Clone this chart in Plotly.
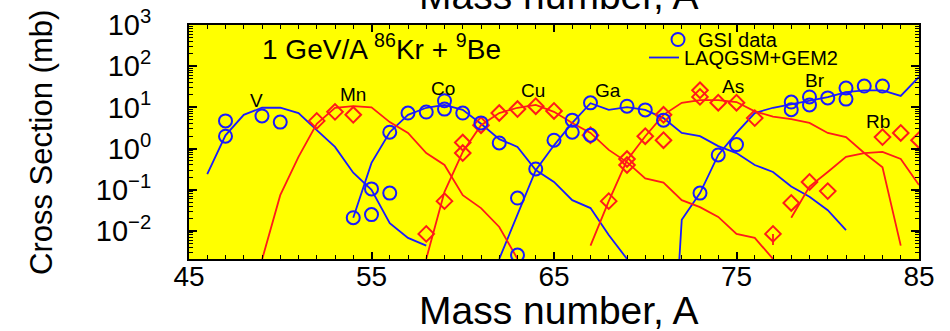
import math
import plotly.graph_objects as go

# ---------------- data ----------------
# GSI data (blue circles)
gsi_A = [47, 47, 49, 50, 55, 56, 54, 55,
         56, 57, 58, 59, 59, 60, 61, 62, 63, 63, 64,
         65, 66, 66, 67, 67, 69, 70, 71,
         73, 74, 75, 78, 78, 79, 79, 80, 81, 81, 82, 83]
gsi_sigma = [4.7, 2.0, 6.2, 4.4, 0.105, 0.083, 0.021, 0.025,
             2.5, 7.3, 7.7, 14.5, 9.1, 7.3, 4.2, 1.37, 0.063, 0.0026, 0.32,
             1.6, 4.9, 2.5, 12.9, 2.1, 10.7, 8.7, 4.9,
             0.083, 0.70, 1.25, 13.5, 8.8, 17.9, 11.5, 17.0, 29.5, 15.9, 33.0, 33.0]

# GSI data (red diamonds)
gsi2_A = [52, 53, 54,
          58, 59, 60, 60, 61, 62, 63, 64, 65, 67,
          68, 69, 69, 70, 71, 71, 73, 73, 74, 75, 76,
          77, 78, 79, 80, 83, 84, 85]
gsi2_sigma = [4.7, 7.8, 6.6,
              0.0085, 0.053, 1.4, 0.78, 3.7, 7.3, 9.1, 10.7, 8.2, 2.1,
              0.053, 0.56, 0.40, 2.0, 1.6, 6.6, 26.0, 18.0, 13.0, 13.0, 5.5,
              0.0085, 0.048, 0.155, 0.093, 1.9, 2.4, 1.6]
gsi2_err_minus = [0, 0, 0,
                  0, 0, 0, 0, 0, 0, 0, 0, 0, 0,
                  0, 0, 0, 0, 0, 0, 0, 0, 0, 0, 0,
                  0.0039, 0, 0, 0, 0, 0, 0]

# LAQGSM+GEM2 calculations
V_A = [46, 47, 48, 49, 50, 51, 52, 53, 54, 55, 56, 57, 58]
V_s = [0.24, 2.1, 6.6, 9.8, 9.8, 7.3, 2.8, 1.1, 0.26, 0.10, 0.0155, 0.0068, 0.0044]

Mn_A = [49, 50, 51, 52, 53, 54, 55, 56, 57, 58, 59, 60, 61, 62, 63]
Mn_s = [0.002, 0.074, 0.63, 4.0, 9.8, 10.7, 10.0, 4.4, 2.4, 0.78, 0.40, 0.074, 0.036, 0.0125, 0.0021]

Co_A = [54, 55, 56, 57, 58, 59, 60, 61, 62, 63, 64, 65, 66, 67, 68, 69]
Co_s = [0.021, 0.45, 2.5, 6.6, 9.8, 11.5, 8.7, 4.0, 1.7, 1.1, 0.30, 0.155, 0.056, 0.036, 0.008, 0.0021]

Cu_A = [58, 59, 60, 61, 62, 63, 64, 65, 66, 67, 68, 69, 70, 71, 72, 73, 74, 75, 76, 77]
Cu_s = [0.0021, 0.089, 0.83, 3.7, 7.3, 9.8, 11.5, 7.8, 4.2, 2.4, 0.93, 0.47, 0.19, 0.15,
        0.056, 0.038, 0.022, 0.0085, 0.0068, 0.0021]

Ga_A = [62, 63, 64, 65, 66, 67, 68, 69, 70, 71, 72, 73, 74, 75, 76, 77, 78, 79, 80, 81]
Ga_s = [0.0021, 0.026, 0.30, 1.2, 4.2, 12.6, 8.7, 10.2, 8.7, 5.5, 2.4, 2.0, 1.15, 0.78,
        0.40, 0.27, 0.12, 0.068, 0.032, 0.0105]

As_A = [67, 68, 69, 70, 71, 72, 73, 74, 75, 76, 77, 78, 79, 80, 81, 82, 83, 84]
As_s = [0.0044, 0.053, 0.52, 2.0, 6.6, 12.9, 15.0, 15.0, 13.5, 8.0, 6.0, 5.2, 4.2, 2.4,
        1.9, 0.78, 0.35, 0.0044]

Br_A = [71, 72, 73, 74, 75, 76, 77, 78, 79, 80, 81, 82, 83, 84, 85]
Br_s = [1e-9, 0.0187, 0.083, 0.70, 2.4, 7.3, 9.8, 12.0, 15.0, 17.8, 23.5, 26.0, 26.0, 19.0, 55.0]

Rb_A = [78, 79, 80, 81, 82, 83, 84, 85]
Rb_s = [0.021, 0.12, 0.27, 0.63, 0.78, 0.83, 0.56, 0.13]

# element labels
elem_names = ["V", "Mn", "Co", "Cu", "Ga", "As", "Br", "Rb"]
elem_x = [48.7, 54.0, 58.9, 63.85, 67.96, 74.8, 79.3, 82.75]
elem_y = [15.0, 20.0, 29.5, 26.0, 26.0, 33.0, 44.0, 4.5]

x_ticks = [45, 55, 65, 75, 85]
y_ticks = [1e-2, 1e-1, 1e0, 1e1, 1e2, 1e3]
y_ticktext = ["10<sup>\u22122</sup>", "10<sup>\u22121</sup>", "10<sup>0</sup>",
              "10<sup>1</sup>", "10<sup>2</sup>", "10<sup>3</sup>"]

BLUE = "#1a1aff"
RED = "#ff1a1a"
FONT = "Liberation Sans, Arial, sans-serif"

# plot area in pixels
L, R, T, B = 189, 919, 25, 259
W, H = R - L, B - T


def py2paper(py):
    return (B - py) / H


def px2paper(px):
    return (px - L) / W


fig = go.Figure()

blue_lines = [(V_A, V_s), (Co_A, Co_s), (Ga_A, Ga_s), (Br_A, Br_s)]
red_lines = [(Mn_A, Mn_s), (Cu_A, Cu_s), (As_A, As_s), (Rb_A, Rb_s)]

for i, (a, s) in enumerate(blue_lines):
    fig.add_trace(go.Scatter(x=a, y=s, mode="lines", line=dict(color=BLUE, width=1.8),
                             name="LAQGSM+GEM2", showlegend=(i == 0), legend="legend2"))
for a, s in red_lines:
    fig.add_trace(go.Scatter(x=a, y=s, mode="lines", line=dict(color=RED, width=1.8),
                             showlegend=False))

fig.add_trace(go.Scatter(x=gsi2_A, y=gsi2_sigma, mode="markers",
                         marker=dict(symbol="diamond-open", size=12, color=RED,
                                     line=dict(width=2, color=RED)),
                         error_y=dict(type="data", symmetric=False,
                                      array=[0] * len(gsi2_err_minus),
                                      arrayminus=gsi2_err_minus, color=RED,
                                      thickness=1.8, width=0),
                         showlegend=False))
fig.add_trace(go.Scatter(x=gsi_A, y=gsi_sigma, mode="markers",
                         marker=dict(symbol="circle-open", size=13, color=BLUE,
                                     line=dict(width=2, color=BLUE)),
                         name="GSI data", showlegend=True, legend="legend"))

for n, x, y in zip(elem_names, elem_x, elem_y):
    fig.add_annotation(x=x, y=math.log10(y), text=n, showarrow=False,
                       font=dict(size=19, color="black", family=FONT))

fig.add_annotation(x=48.9, y=2.47, xanchor="left", yanchor="middle",
                   text="1 GeV/A <sup>86</sup>Kr + <sup>9</sup>Be", showarrow=False,
                   font=dict(size=28, color="black", family=FONT))

# top (cut-off) title
fig.add_annotation(xref="paper", yref="paper", x=px2paper(559), y=py2paper(19),
                   xanchor="center", yanchor="bottom", text="Mass number, A",
                   showarrow=False, font=dict(size=39, color="black", family=FONT))
# bottom x-axis title
fig.add_annotation(xref="paper", yref="paper", x=px2paper(559), y=py2paper(310),
                   xanchor="center", yanchor="middle", text="Mass number, A",
                   showarrow=False, font=dict(size=39, color="black", family=FONT))
# y-axis title
fig.add_annotation(xref="paper", yref="paper", x=px2paper(41), y=py2paper(143),
                   xanchor="center", yanchor="middle", text="Cross Section (mb)",
                   textangle=-90, showarrow=False,
                   font=dict(size=31, color="black", family=FONT))

axis_common = dict(showline=True, linecolor="black", linewidth=2, mirror="ticks",
                   ticks="inside", tickcolor="black", tickwidth=1.5,
                   showgrid=False, zeroline=False, automargin=False)

minor_y = [k * 10 ** n for n in range(-3, 3) for k in range(2, 10)]

fig.update_xaxes(range=[45, 85], tickmode="array", tickvals=x_ticks, ticklen=7,
                 minor=dict(ticks="inside", dtick=1, tick0=45, ticklen=4,
                            tickcolor="black", tickwidth=1.2, showgrid=False),
                 tickfont=dict(size=28, color="black", family=FONT),
                 ticklabelstandoff=-9,
                 **axis_common)
fig.update_yaxes(type="log", range=[-2.68, 3], tickmode="array", tickvals=y_ticks,
                 ticktext=y_ticktext, ticklen=8,
                 minor=dict(ticks="inside", tickmode="array", tickvals=minor_y,
                            ticklen=4, tickcolor="black", tickwidth=1.2, showgrid=False),
                 tickfont=dict(size=29, color="black", family=FONT),
                 ticklabelstandoff=30,
                 **axis_common)

fig.update_layout(
    width=950, height=331,
    margin=dict(l=L, r=950 - R, t=T, b=331 - B, autoexpand=False),
    plot_bgcolor="#ffff00", paper_bgcolor="white",
    font=dict(family=FONT, color="black"),
    legend=dict(x=px2paper(658), y=py2paper(20), xanchor="left", yanchor="top",
                bgcolor="rgba(0,0,0,0)", borderwidth=0,
                font=dict(size=20, color="black", family=FONT)),
    legend2=dict(x=px2paper(644), y=py2paper(38), xanchor="left", yanchor="top",
                 bgcolor="rgba(0,0,0,0)", borderwidth=0,
                 font=dict(size=20, color="black", family=FONT)),
)

fig.write_html("out.html", config={"displayModeBar": False},
               post_script="document.body.style.margin='0';document.body.style.overflow='hidden';")
